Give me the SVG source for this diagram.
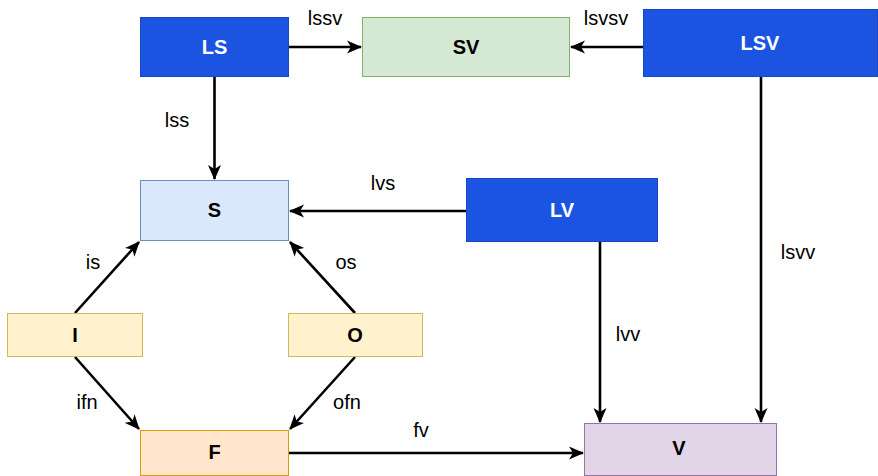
<svg xmlns="http://www.w3.org/2000/svg" width="878" height="476" viewBox="0 0 878 476">
<style>
.lbl{font-family:"Liberation Sans",Arial,sans-serif;font-size:20px;fill:#000;text-anchor:middle;dominant-baseline:central}
.nt{font-family:"Liberation Sans",Arial,sans-serif;font-size:20px;font-weight:bold;text-anchor:middle;dominant-baseline:central}
.blue rect{fill:#1a54e0;stroke:#1747c4;stroke-width:1}
.blue text{fill:#fff}
.edge{fill:none;stroke:#000;stroke-width:2.6;marker-end:url(#ah)}
</style>
<defs>
<marker id="ah" markerWidth="15" markerHeight="14" refX="14" refY="7" orient="auto" markerUnits="userSpaceOnUse" viewBox="0 0 15 14">
<path d="M0,0.5 L15,7 L0,13.5 L4,7 Z" fill="#000"/>
</marker>
</defs>
<rect width="878" height="476" fill="#fff"/>
<g id="edges">
<path d="M289,47 L361,47" class="edge"/>
<path d="M643,47 L571,47" class="edge"/>
<path d="M214.5,77 L214.5,179" class="edge"/>
<path d="M466,211 L290,211" class="edge"/>
<path d="M75,313 L139,242" class="edge"/>
<path d="M355,313 L290,242" class="edge"/>
<path d="M75,357 L139,429" class="edge"/>
<path d="M355,357 L290,429" class="edge"/>
<path d="M289,453 L583,453" class="edge"/>
<path d="M600,242 L600,422" class="edge"/>
<path d="M761,77 L761,422" class="edge"/>
<text class="lbl" x="325" y="18">lssv</text>
<text class="lbl" x="606" y="18">lsvsv</text>
<text class="lbl" x="177" y="120">lss</text>
<text class="lbl" x="383" y="183">lvs</text>
<text class="lbl" x="798" y="252">lsvv</text>
<text class="lbl" x="628" y="334">lvv</text>
<text class="lbl" x="93" y="262">is</text>
<text class="lbl" x="346" y="262">os</text>
<text class="lbl" x="87" y="402">ifn</text>
<text class="lbl" x="347" y="402">ofn</text>
<text class="lbl" x="421" y="430">fv</text>
</g>
<g id="LS" class="blue"><rect x="140.5" y="17.5" width="148" height="59"/><text class="nt" x="214.5" y="47">LS</text></g>
<g id="SV"><rect x="362.5" y="17.5" width="207" height="59" fill="#d5e8d4" stroke="#82b366"/><text class="nt" x="466" y="47">SV</text></g>
<g id="LSV" class="blue"><rect x="643.5" y="9.5" width="234" height="67"/><text class="nt" x="760" y="43">LSV</text></g>
<g id="S"><rect x="140.5" y="180.5" width="148" height="60" fill="#dae8fc" stroke="#6c8ebf"/><text class="nt" x="214.5" y="210">S</text></g>
<g id="LV" class="blue"><rect x="466.5" y="178.5" width="191" height="63"/><text class="nt" x="562" y="210">LV</text></g>
<g id="I"><rect x="7.5" y="313.5" width="135" height="43" fill="#fff2cc" stroke="#d6b656"/><text class="nt" x="75" y="335">I</text></g>
<g id="O"><rect x="288.5" y="313.5" width="134" height="43" fill="#fff2cc" stroke="#d6b656"/><text class="nt" x="355" y="335">O</text></g>
<g id="F"><rect x="140.5" y="430.5" width="148" height="45" fill="#ffe6cc" stroke="#d79b00"/><text class="nt" x="214.5" y="452">F</text></g>
<g id="V"><rect x="584.5" y="423.5" width="192" height="52" fill="#e1d5e7" stroke="#9673a6"/><text class="nt" x="679" y="448">V</text></g>
</svg>
